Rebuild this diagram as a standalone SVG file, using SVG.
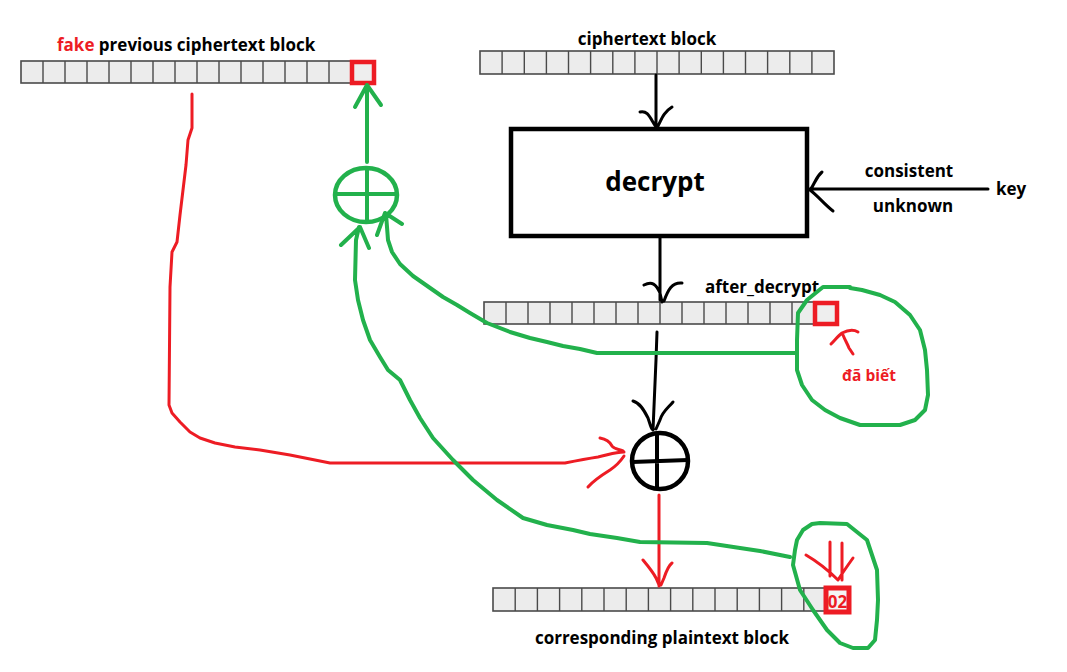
<svg xmlns="http://www.w3.org/2000/svg" width="1067" height="672" viewBox="0 0 1067 672">
<style>
.lbl{font-family:"Open Sans","Liberation Sans",sans-serif;font-weight:bold;font-size:17px;fill:#000}
.red{fill:#ed1c24}
.blk{fill:#ececec;stroke:#4a4a4a;stroke-width:1.6}
.div{fill:none;stroke:#4a4a4a;stroke-width:1.4}
.rsq{fill:#eeeeee;stroke:#ed1c24;stroke-width:4.5}
.g{fill:none;stroke:#22b14c;stroke-width:4;stroke-linecap:round;stroke-linejoin:round}
.r{fill:none;stroke:#ed1c24;stroke-width:3;stroke-linecap:round;stroke-linejoin:round}
.k{fill:none;stroke:#000;stroke-width:3;stroke-linecap:round;stroke-linejoin:round}
</style>
<rect width="1067" height="672" fill="#fff"/>

<g id="fake-prev-block">
<text class="lbl" x="57" y="51"><tspan class="red">fake</tspan> previous ciphertext block</text>
<rect class="blk" x="21" y="61" width="352" height="22"/>
<path class="div" d="M43 61v22M65 61v22M87 61v22M109 61v22M131 61v22M153 61v22M175 61v22M197 61v22M219 61v22M241 61v22M263 61v22M285 61v22M307 61v22M329 61v22M351 61v22"/>
<rect class="rsq" x="352" y="62" width="22" height="21"/>
</g>

<g id="ciphertext-block">
<text class="lbl" x="647" y="45" text-anchor="middle">ciphertext block</text>
<rect class="blk" x="480" y="51" width="354" height="23"/>
<path class="div" d="M502.1 51v23M524.3 51v23M546.4 51v23M568.5 51v23M590.6 51v23M612.8 51v23M634.9 51v23M657 51v23M679.1 51v23M701.3 51v23M723.4 51v23M745.5 51v23M767.6 51v23M789.8 51v23M811.9 51v23"/>
</g>

<g id="decrypt">
<rect x="511" y="129" width="296" height="107" fill="#fff" stroke="#000" stroke-width="4.5"/>
<text x="655" y="191" text-anchor="middle" font-family="'Open Sans','Liberation Sans',sans-serif" font-weight="bold" font-size="26">decrypt</text>
</g>

<g id="key">
<text class="lbl" x="909" y="177" text-anchor="middle">consistent</text>
<text class="lbl" x="913" y="212" text-anchor="middle">unknown</text>
<text class="lbl" x="996" y="195">key</text>
</g>

<g id="after-decrypt-block">
<text class="lbl" x="705" y="293">after_decrypt</text>
<rect class="blk" x="484" y="302" width="352" height="22"/>
<path class="div" d="M506 302v22M528 302v22M550 302v22M572 302v22M594 302v22M616 302v22M638 302v22M660 302v22M682 302v22M704 302v22M726 302v22M748 302v22M770 302v22M792 302v22M814 302v22"/>
<rect class="rsq" x="815" y="303" width="22" height="21"/>
</g>

<g id="known-note">
<text x="842" y="381" font-family="'Open Sans','Liberation Sans',sans-serif" font-weight="bold" font-size="15.5" fill="#ed1c24">đã biết</text>
</g>

<g id="plaintext-block">
<rect class="blk" x="493" y="588" width="355" height="23"/>
<path class="div" d="M515.2 588v23M537.4 588v23M559.6 588v23M581.8 588v23M604 588v23M626.2 588v23M648.4 588v23M670.6 588v23M692.8 588v23M715 588v23M737.2 588v23M759.4 588v23M781.6 588v23M803.8 588v23"/>
<rect x="826" y="588" width="23" height="24" fill="#f4f4f4" stroke="#ed1c24" stroke-width="5"/>
<text x="837.5" y="608" text-anchor="middle" font-family="'Open Sans','Liberation Sans',sans-serif" font-weight="bold" font-size="17" fill="#ed1c24">02</text>
<text class="lbl" x="662" y="644" text-anchor="middle">corresponding plaintext block</text>
</g>

<g id="xor-black">
<circle cx="660" cy="461" r="28" fill="none" stroke="#000" stroke-width="4.5"/>
<path d="M632 462L688 460M657 433V490" fill="none" stroke="#000" stroke-width="4"/>
</g>

<g id="xor-green">
<ellipse cx="366" cy="195" rx="31" ry="27" fill="none" stroke="#22b14c" stroke-width="4.5"/>
<path d="M335 194H397M367 168V222" fill="none" stroke="#22b14c" stroke-width="4"/>
</g>

<g id="connectors">
<!-- black -->
<path class="k" d="M656 75V126M640 112C648 110 650 118 656 127M672 107C664 112 662 118 658 126"/>
<path class="k" d="M660 238V300M644 285C652 281 656 284 660 293L662 302M682 283C672 282 668 290 664 301"/>
<path class="k" d="M808 189H988M822 172C815 178 815 184 810 190C818 196 824 204 833 211"/>
<path class="k" d="M657 332L656 360L653 430M633 401C640 403 644 410 648 418C650 424 651 428 652 429M673 402C668 408 662 412 660 420L656 429"/>
<!-- red -->
<path class="r" d="M192 94V128L188 140L186 165L183 190L180 215L177 242L172 252L170 287L169 405L172 413L180 422L190 432L200 438L215 443L235 447L260 450L290 455L310 459L330 463H565C575 461 585 459 598 457C608 455 615 452 624 452"/>
<path class="r" d="M600 438C606 439 610 442 612 446C614 449 618 449 623 451M588 487C594 480 602 475 610 470C616 466 620 462 624 456"/>
<path class="r" d="M659 495V586M643 560C648 566 653 572 656 578L659 585M672 563C668 566 666 572 664 578L661 585"/>
<path class="r" d="M831 344C835 340 838 336 842 333C848 330 853 329 858 332M843 335C845 340 848 345 849 348L853 354"/>
<path class="r" d="M830 542V576M842 543V580M806 555C818 562 828 570 838 580M853 558C848 565 843 572 838 580"/>
<!-- green -->
<path class="g" d="M367 162V86M355 107L367 85L381 105"/>
<path class="g" d="M797 353H597L580 349L563 346L547 342L530 338L510 332L487 323L470 313L457 305L443 297L423 283L413 276L400 264L392 252L388 240L386 214M377 235L385 213L402 224"/>
<path class="g" d="M790 557L760 551L740 548L707 543L640 542L617 538L590 534L573 530L547 525L523 518L497 500L473 480L453 460L433 438L420 418L410 400L400 380L388 370L380 357L370 340L363 320L358 300L355 280L356 240L359 227M341 245L360 227L369 248"/>
<path class="g" d="M850 287L823 287L807 300L798 313L797 340L797 370L802 385L812 400L825 410L840 418L860 425L880 425L900 425L915 420L925 410L928 395L927 370L925 350L920 330L910 315L895 302L880 295L862 290L850 288"/>
<path class="g" d="M820 523L847 524L867 540L877 570L878 600L877 620L875 640L868 648L853 648L840 643L827 630L813 610L800 590L793 565L795 550L797 540L803 530L812 524Z"/>
</g>
</svg>
